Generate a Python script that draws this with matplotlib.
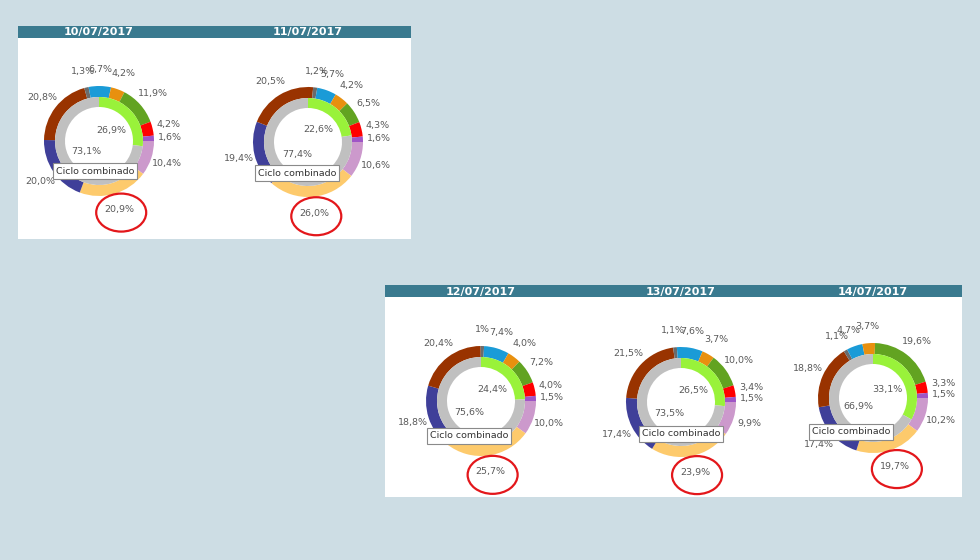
import numpy as np
import matplotlib.pyplot as plt
from matplotlib.patches import Rectangle, Ellipse

# daily generation mix, outer ring clockwise starting at 3 o'clock
fechas = ['10/07/2017', '11/07/2017', '12/07/2017', '13/07/2017', '14/07/2017']
tecnologias = ['Cogeneración', 'Ciclo combinado', 'Nuclear', 'Carbón', 'Residuos',
               'Hidráulica', 'Solar fotovoltaica', 'Eólica', 'Solar térmica', 'Otras renovables']
colores = ['#cc99cc', '#fdca6c', '#3f3f99', '#993300', '#6b6b6b',
           '#1a9bd7', '#e8900f', '#62a321', '#ff0000', '#9f55c6']

mix_10 = [10.4, 20.9, 20.0, 20.8, 1.3, 6.7, 4.2, 11.9, 4.2, 1.6]
mix_11 = [10.6, 26.0, 19.4, 20.5, 1.2, 5.7, 4.2, 6.5, 4.3, 1.6]
mix_12 = [10.0, 25.7, 18.8, 20.4, 1, 7.4, 4.0, 7.2, 4.0, 1.5]
mix_13 = [9.9, 23.9, 17.4, 21.5, 1.1, 7.6, 3.7, 10.0, 3.4, 1.5]
mix_14 = [10.2, 19.7, 17.4, 18.8, 1.1, 4.7, 3.7, 19.6, 3.3, 1.5]
mixes = [mix_10, mix_11, mix_12, mix_13, mix_14]

# inner ring: renovable / no renovable
renovable = [26.9, 22.6, 24.4, 26.5, 33.1]
no_renovable = [73.1, 77.4, 75.6, 73.5, 66.9]
colores_int = ['#99f23a', '#c0c0c0']

# layout in image pixels (y down)
W, H = 980, 560
centros = [(99, 141), (308, 142), (481, 401), (681, 402), (873, 398)]
panel_de = [0, 0, 1, 1, 1]
tooltip_off = [(-4, 30), (-11, 31), (-12, 35), (0, 32), (-22, 34)]
paneles = [(18, 26, 393, 213), (385, 285, 577, 212)]
R_OUT, R_MID, R_IN = 55, 44, 34


def fmt(v):
    if isinstance(v, int):
        return f'{v}%'
    return f'{v:.1f}'.replace('.', ',') + '%'


fig = plt.figure(figsize=(W / 100, H / 100), dpi=100)
fig.patch.set_facecolor('#cddde4')
ax = fig.add_axes([0, 0, 1, 1])

for (px, py, pw, ph) in paneles:
    ax.add_patch(Rectangle((px, H - py - ph), pw, ph, facecolor='white', edgecolor='none', zorder=0))
    ax.add_patch(Rectangle((px, H - py - 12), pw, 12, facecolor='#3a7a8f', edgecolor='none', zorder=1))

txt_col = '#5a5a5a'
for i, (cx, cy) in enumerate(centros):
    c = (cx, H - cy)
    top = paneles[panel_de[i]][1]
    ax.text(cx, H - top - 6.5, fechas[i], color='white', fontsize=8, fontweight='bold',
            ha='center', va='center', zorder=3)
    wedges, _ = ax.pie(mixes[i], radius=R_OUT, center=c, startangle=0, counterclock=False,
                       colors=colores, wedgeprops=dict(width=R_OUT - R_MID, linewidth=0))
    for w, v, name in zip(wedges, mixes[i], tecnologias):
        a = np.deg2rad((w.theta1 + w.theta2) / 2)
        lx = c[0] + 1.3 * R_OUT * np.cos(a)
        ly = c[1] + 1.3 * R_OUT * np.sin(a)
        ax.text(lx, ly, fmt(v), color=txt_col, fontsize=6.8, ha='center', va='center', zorder=4)
        if name == 'Ciclo combinado':
            ax.add_patch(Ellipse((lx + 2, ly - 3), 50, 38, fill=False, edgecolor='#e3171b',
                                 linewidth=1.6, zorder=5))
    iw, _ = ax.pie([renovable[i], no_renovable[i]], radius=R_MID, center=c, startangle=90,
                   counterclock=False, colors=colores_int,
                   wedgeprops=dict(width=R_MID - R_IN, linewidth=0))
    for w, v in zip(iw, [renovable[i], no_renovable[i]]):
        a = np.deg2rad((w.theta1 + w.theta2) / 2)
        ax.text(c[0] + 0.3 * R_OUT * np.cos(a), c[1] + 0.3 * R_OUT * np.sin(a), fmt(v),
                color=txt_col, fontsize=6.8, ha='center', va='center', zorder=4)
    dx, dy = tooltip_off[i]
    ax.text(cx + dx, H - cy - dy, 'Ciclo combinado', color='#333333', fontsize=6.8,
            ha='center', va='center', zorder=6,
            bbox=dict(boxstyle='square,pad=0.35', facecolor='white', edgecolor='#8a8a8a', linewidth=0.8))

ax.set_xlim(0, W)
ax.set_ylim(0, H)
ax.set_aspect('equal')
ax.axis('off')
fig.savefig('out.png', dpi=100, facecolor=fig.get_facecolor())
